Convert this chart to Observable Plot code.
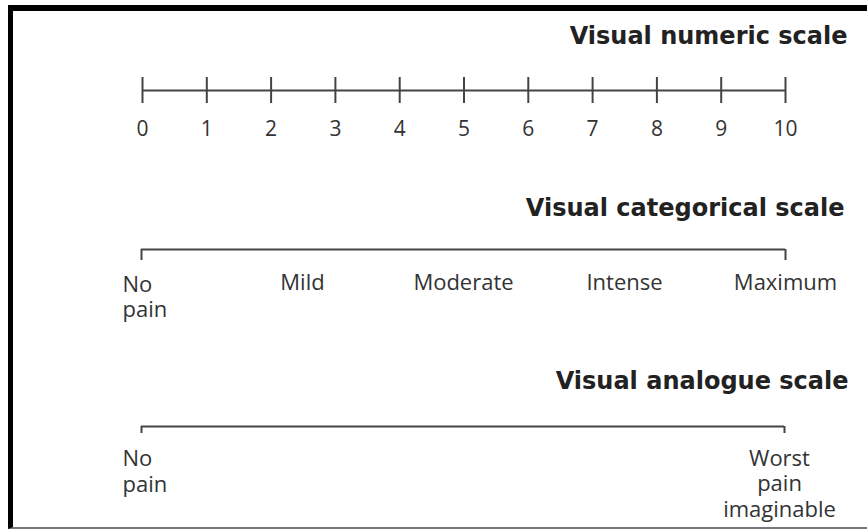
<!DOCTYPE html>
<html>
<head>
<meta charset="utf-8">
<script src="https://cdn.jsdelivr.net/npm/d3@7"></script>
<script src="https://cdn.jsdelivr.net/npm/@observablehq/plot@0.6"></script>
<style>
  html, body { margin: 0; padding: 0; background: #fff; width: 867px; height: 529px; overflow: hidden; }
  .frame { position: absolute; left: 8px; top: 5px; width: 859px; height: 524px;
           border-left: 5px solid #000; border-top: 6px solid #000; border-bottom: 2px solid #777;
           box-sizing: border-box; }
  .sec { position: absolute; left: 0; }
  .sec svg { overflow: visible; }
</style>
</head>
<body>
<div class="frame"></div>
<div class="sec" id="s1" style="top:0px"></div>
<div class="sec" id="s2" style="top:180px"></div>
<div class="sec" id="s3" style="top:360px"></div>
<script>
// ---- data ----
const titles = ["Visual numeric scale", "Visual categorical scale", "Visual analogue scale"];
const numericTicks = [0, 1, 2, 3, 4, 5, 6, 7, 8, 9, 10];
const categories = ["No\npain", "Mild", "Moderate", "Intense", "Maximum"];
const analogueEnds = [0, 100];
const analogueLabels = ["No\npain", "Worst\npain\nimaginable"];

// ---- style ----
const lineColor = "#444";
const textColor = "#333";
const titleFont = "DejaVu Sans, sans-serif";
const labelFont = "Open Sans, sans-serif";

const common = {
  width: 867,
  marginLeft: 142,
  marginRight: 82,
  style: {background: "transparent", overflow: "visible"}
};

const firstCat = categories[0];
const lastCat = categories[categories.length - 1];

// Visual numeric scale
const p1 = Plot.plot({
  ...common,
  height: 180,
  marginTop: 77,
  marginBottom: 77,
  x: {domain: [0, 10], axis: null},
  y: {domain: [-1, 1], axis: null},
  marks: [
    Plot.ruleY([0], {x1: () => numericTicks[0], x2: () => numericTicks[numericTicks.length - 1], stroke: lineColor, strokeWidth: 2}),
    Plot.ruleX(numericTicks, {x: d => d, y1: -1, y2: 1, stroke: lineColor, strokeWidth: 2}),
    Plot.text(numericTicks, {x: d => d, y: -1, text: d => String(d), lineAnchor: "top", dy: 18,
      fontSize: 21, fontFamily: labelFont, fill: textColor}),
    Plot.text([titles[0]], {frameAnchor: "top-right", lineAnchor: "bottom", dx: 62, dy: -34,
      fontSize: 24, fontWeight: "bold", fontFamily: titleFont, fill: "#222"})
  ]
});
document.getElementById("s1").append(p1);

// Visual categorical scale
const p2 = Plot.plot({
  ...common,
  marginLeft: 141,
  height: 180,
  marginTop: 69,
  marginBottom: 100,
  x: {type: "point", domain: categories, padding: 0, axis: null},
  y: {domain: [-1, 0], axis: null},
  marks: [
    Plot.ruleY([0], {x1: () => firstCat, x2: () => lastCat, stroke: lineColor, strokeWidth: 2}),
    Plot.ruleX([firstCat, lastCat], {x: d => d, y1: -1, y2: 0, stroke: lineColor, strokeWidth: 2}),
    Plot.text([firstCat], {x: d => d, y: -1, text: d => d, textAnchor: "start", lineAnchor: "top",
      dx: -19, dy: 14, lineHeight: 1.14, fontSize: 22, fontFamily: labelFont, fill: textColor}),
    Plot.text(categories.slice(1), {x: d => d, y: -1, text: d => d, lineAnchor: "top",
      dy: 14, fontSize: 22, fontFamily: labelFont, fill: textColor}),
    Plot.text([titles[1]], {frameAnchor: "top-right", lineAnchor: "bottom", dx: 59, dy: -34,
      fontSize: 24, fontWeight: "bold", fontFamily: titleFont, fill: "#222"})
  ]
});
document.getElementById("s2").append(p2);

// Visual analogue scale
const p3 = Plot.plot({
  ...common,
  marginLeft: 141,
  marginRight: 83,
  height: 169,
  marginTop: 66,
  marginBottom: 96,
  x: {domain: [0, 100], axis: null},
  y: {domain: [-1, 0], axis: null},
  marks: [
    Plot.ruleY([0], {x1: () => analogueEnds[0], x2: () => analogueEnds[1], stroke: lineColor, strokeWidth: 2}),
    Plot.ruleX(analogueEnds, {x: d => d, y1: -1, y2: 0, stroke: lineColor, strokeWidth: 2}),
    Plot.text([0], {x: d => analogueEnds[d], y: -1, text: d => analogueLabels[d], textAnchor: "start",
      lineAnchor: "top", dx: -19, dy: 14, lineHeight: 1.18, fontSize: 22, fontFamily: labelFont, fill: textColor}),
    Plot.text([1], {x: d => analogueEnds[d], y: -1, text: d => analogueLabels[d],
      lineAnchor: "top", dx: -5, dy: 14, lineHeight: 1.16, fontSize: 22, fontFamily: labelFont, fill: textColor}),
    Plot.text([titles[2]], {frameAnchor: "top-right", lineAnchor: "bottom", dx: 64, dy: -38,
      fontSize: 24, fontWeight: "bold", fontFamily: titleFont, fill: "#222"})
  ]
});
document.getElementById("s3").append(p3);
</script>
</body>
</html>
